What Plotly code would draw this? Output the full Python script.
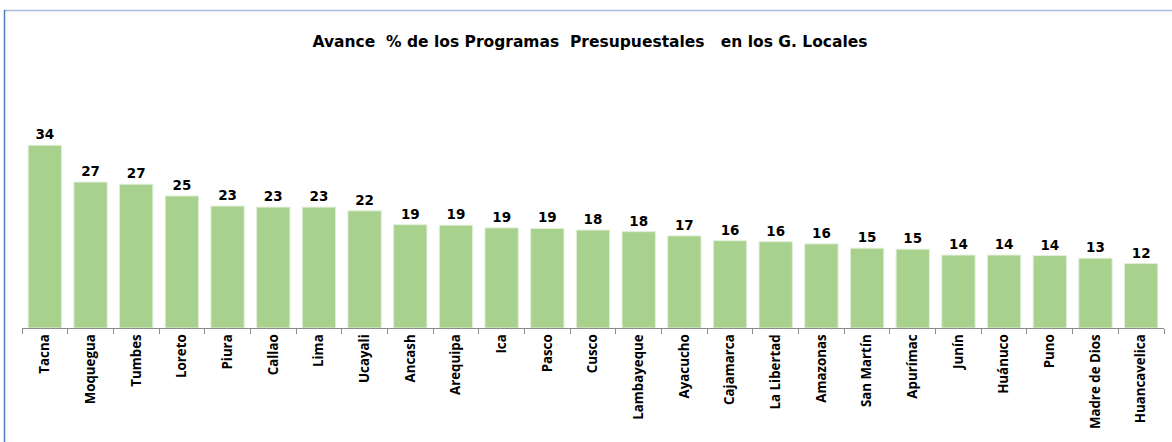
import plotly.graph_objects as go

# Regional governments (locales) ordered by budget-programme progress
regiones = [
    "Tacna", "Moquegua", "Tumbes", "Loreto", "Piura", "Callao", "Lima",
    "Ucayali", "Ancash", "Arequipa", "Ica", "Pasco", "Cusco", "Lambayeque",
    "Ayacucho", "Cajamarca", "La Libertad", "Amazonas", "San Martín",
    "Apurímac", "Junín", "Huánuco", "Puno", "Madre de Dios", "Huancavelica",
]

# Progress (%) of the budget programmes
avance = [
    34.3, 27.4, 27.0, 24.8, 22.9, 22.7, 22.7,
    22.0, 19.4, 19.3, 18.8, 18.7, 18.4, 18.1,
    17.3, 16.4, 16.2, 15.8, 15.0,
    14.8, 13.7, 13.7, 13.6, 13.1, 12.1,
]

titulo = "Avance\u00a0\u00a0% de los Programas\u00a0\u00a0Presupuestales\u00a0\u00a0\u00a0en los G. Locales"

W, H = 1172, 442
ML, MR, MT, MB = 22, 8, 115, 114
PW, PH = W - ML - MR, H - MT - MB


def px_x(px):
    return (px - ML) / PW


def px_y(py):
    return (H - MB - py) / PH


fig = go.Figure(
    go.Bar(
        x=regiones,
        y=avance,
        marker=dict(color="#a9d18e", line=dict(color="#e2efd9", width=1)),
        texttemplate="%{y:.0f}",
        textposition="outside",
        textfont=dict(family="DejaVu Sans", size=13.5, color="#000000", weight="bold"),
        cliponaxis=False,
    )
)

fig.update_layout(
    width=W,
    height=H,
    margin=dict(l=ML, r=MR, t=MT, b=MB, pad=0),
    paper_bgcolor="white",
    plot_bgcolor="white",
    bargap=0.27,
    showlegend=False,
    title=dict(
        text=titulo,
        x=590 / W,
        xanchor="center",
        y=1 - 42 / H,
        yanchor="middle",
        font=dict(family="DejaVu Sans", size=15.5, color="#000000", weight="bold"),
    ),
    xaxis=dict(
        showline=True,
        linecolor="#8c8c8c",
        linewidth=1,
        ticks="outside",
        tickson="boundaries",
        ticklen=5,
        tickcolor="#8c8c8c",
        tickangle=-90,
        tickfont=dict(family="Open Sans", size=13.3, color="#000000", weight="bold"),
        showgrid=False,
    ),
    yaxis=dict(
        range=[0, 40],
        visible=False,
        showgrid=False,
        zeroline=False,
    ),
    shapes=[
        # frame: top edge
        dict(type="line", xref="paper", yref="paper",
             x0=px_x(4), x1=px_x(W + 2), y0=px_y(10.5), y1=px_y(10.5),
             line=dict(color="#a9bcdc", width=1.5)),
        # frame: left edge
        dict(type="line", xref="paper", yref="paper",
             x0=px_x(4.5), x1=px_x(4.5), y0=px_y(10), y1=px_y(H + 2),
             line=dict(color="#4f7cbd", width=1.5)),
    ],
)

fig.write_html("out.html")
